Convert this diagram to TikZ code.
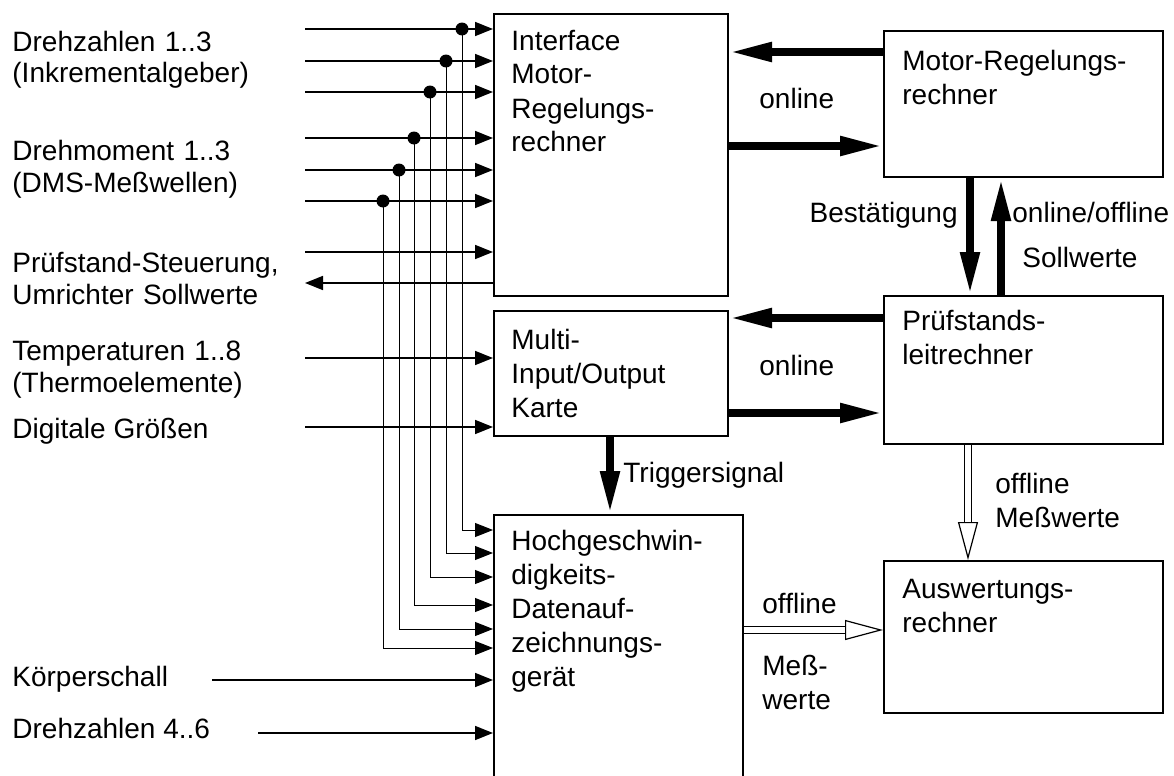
\documentclass[tikz,border=0pt]{standalone}
\usepackage{fontspec}
\setmainfont{Liberation Sans}
\usetikzlibrary{arrows.meta, positioning}

\begin{document}
\begin{tikzpicture}[
			x=0.5pt, y=-0.5pt,
			box/.style={
				draw,
				anchor=north west,
				inner sep=0pt,
				line width=1pt
			},
			boxtext/.style={
				anchor=base west,
				inner sep=0pt,
				text width=140pt,
				align=left,
				font=\fontsize{14pt}{17pt}\selectfont
			},
			sidetext/.style={
				anchor=base west,
				inner sep=0pt,
				text width=140pt,
				align=left,
				font=\fontsize{14pt}{16pt}\selectfont
			},
			lbl/.style={
				anchor=base west,
				inner sep=0pt,
				font=\fontsize{14pt}{16pt}\selectfont
			},
			sig/.style={
				-{Triangle[length=9pt, width=7pt]},
				line width=0.8pt
			},
			bus/.style={
				-{Triangle[length=9pt, width=7pt]},
				line width=0.5pt
			},
			fat/.style={
				-{Triangle[length=21.5pt, width=9pt]},
				line width=4pt
			},
			hollow/.style={
				-{Triangle[open, length=19pt, width=10pt]},
				double,
				double distance=3pt,
				line width=0.6pt
			},
			dot/.style={
				circle,
				fill,
				inner sep=0pt,
				minimum size=6.5pt
			}
			]
			
			\useasboundingbox (0,0) rectangle (1174,776);
			
			% Block 1: Interface Motor-Regelungsrechner
			\node[box, minimum width=117pt, minimum height=141pt] (intf) at (493,13) {};
			\node[boxtext] (intf-t) at (511,50) {Interface\\Motor-\\Regelungs-\\rechner};
			
			% Block 2: Multi-Input/Output Karte
			\node[box, minimum width=117pt, minimum height=62.5pt] (mio) at (493,310) {};
			\node[boxtext] (mio-t) at (511,349) {Multi-\\Input/Output\\Karte};
			
			% Block 3: Datenaufzeichnungsgeraet
			\node[box, minimum width=124.5pt, minimum height=131.5pt] (hsg) at (493,514) {};
			\node[boxtext] (hsg-t) at (511,550) {Hochgeschwin-\\digkeits-\\Datenauf-\\zeichnungs-\\gerät};
			
			% Block 4: Motor-Regelungsrechner
			\node[box, minimum width=139.5pt, minimum height=73pt] (motor) at (883,30) {};
			\node[boxtext] (motor-t) at (902,70) {Motor-Regelungs-\\rechner};
			
			% Block 5: Pruefstandsleitrechner
			\node[box, minimum width=139.5pt, minimum height=74pt] (leit) at (883,295) {};
			\node[boxtext] (leit-t) at (902,330) {Prüfstands-\\leitrechner};
			
			% Block 6: Auswertungsrechner
			\node[box, minimum width=139.5pt, minimum height=76pt] (ausw) at (883,560) {};
			\node[boxtext] (ausw-t) at (902,598) {Auswertungs-\\rechner};
			
			% Signal names on the left
			\node[sidetext] (drz) at (12,51) {Drehzahlen 1..3\\(Inkrementalgeber)};
			\node[sidetext] (drm) at (12,160) {Drehmoment 1..3\\(DMS-Meßwellen)};
			\node[sidetext] (pst) at (12,272) {Prüfstand-Steuerung,\\Umrichter Sollwerte};
			\node[sidetext] (tmp) at (12,360) {Temperaturen 1..8\\(Thermoelemente)};
			\node[lbl] (dig) at (12,438) {Digitale Größen};
			\node[lbl] (ksc) at (12,686) {Körperschall};
			\node[lbl] (drz2) at (12,738) {Drehzahlen 4..6};
			
			% Inputs into block 1
			\foreach \y [count=\i] in {29,61,92,138,170,201,252}
				{
				\coordinate (in\i) at (305,\y);
				\draw[sig] (in\i) -- (in\i -| intf.west);
				}
			\coordinate (out) at (305,283);
			\draw[sig] (out -| intf.west) -- (out);
			
			% Inputs into block 2
			\coordinate (tin) at (305,358);
			\draw[sig] (tin) -- (tin -| mio.west);
			\coordinate (din) at (305,427);
			\draw[sig] (din) -- (din -| mio.west);
			
			% Branches down to block 3
			\foreach \x/\y/\t [count=\i] in {462/29/530, 446/61/553, 430/92/577, 414/138/605, 399/170/629, 383/201/648}
				{
				\node[dot] (j\i) at (\x,\y) {};
				\draw[bus] (j\i.center) |- (hsg.west |- 0,\t);
				}
			\coordinate (kin) at (212,680);
			\draw[sig] (kin) -- (kin -| hsg.west);
			\coordinate (nin) at (258,733);
			\draw[sig] (nin) -- (nin -| hsg.west);
			
			% Online links
			\draw[fat] (motor.west |- 0,52) -- (intf.east |- 0,52);
			\draw[fat] (intf.east |- 0,146) -- (motor.west |- 0,146);
			\node[lbl] (onl1) at (759,108) {online};
			
			\draw[fat] (leit.west |- 0,318) -- (mio.east |- 0,318);
			\draw[fat] (mio.east |- 0,413) -- (leit.west |- 0,413);
			\node[lbl] (onl2) at (759,375) {online};
			
			\draw[fat] (motor.south -| 970,0) -- (leit.north -| 970,0);
			\draw[fat] (leit.north -| 1001,0) -- (motor.south -| 1001,0);
			\node[lbl, anchor=base east] (best) at (958,222) {Bestätigung};
			\node[lbl] (onoff) at (1012,222) {online/offline};
			\node[lbl] (soll) at (1022,267) {Sollwerte};
			
			\draw[fat] (mio.south -| 610,0) -- (hsg.north -| 610,0);
			\node[lbl] (trig) at (623,482) {Triggersignal};
			
			% Offline links
			\draw[hollow] (hsg.east |- 0,630) -- (ausw.west |- 0,630);
			\node[lbl] (off1) at (762,613) {offline};
			\node[boxtext] (mw1) at (762,675) {Meß-\\werte};
			
			\draw[hollow] (leit.south -| 968,0) -- (ausw.north -| 968,0);
			\node[boxtext] (off2) at (995,493) {offline\\Meßwerte};
			
		\end{tikzpicture}
\end{document}
